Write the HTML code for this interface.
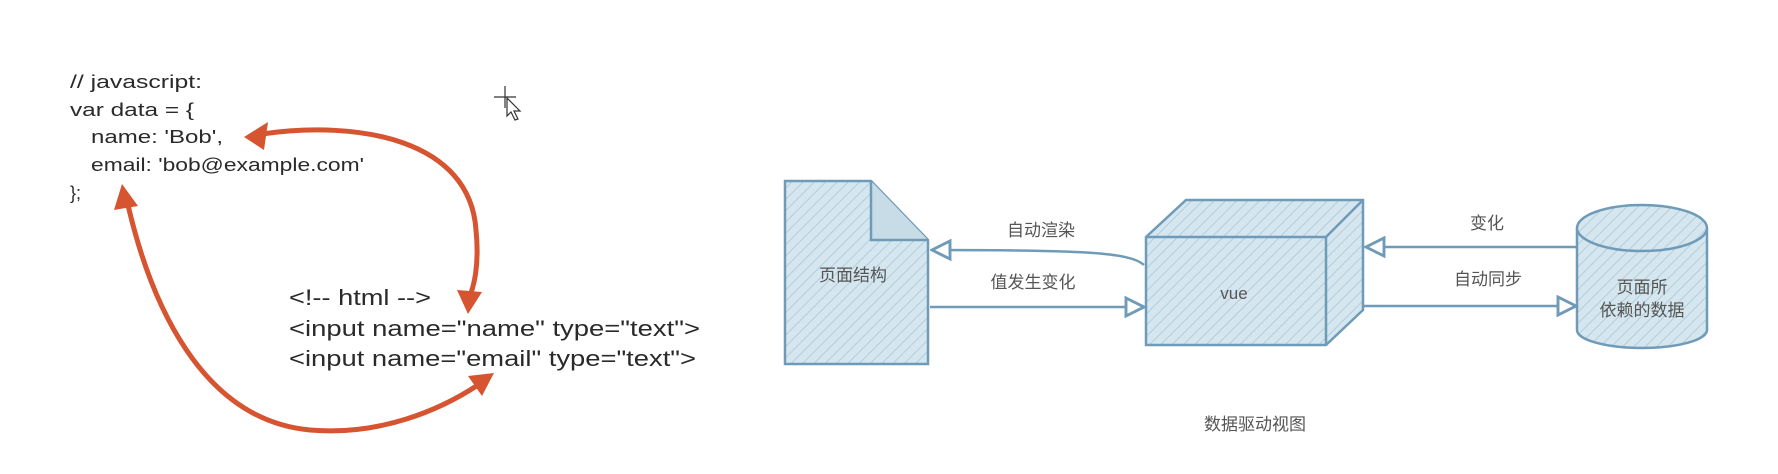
<!DOCTYPE html>
<html><head><meta charset="utf-8"><style>
html,body{margin:0;padding:0;background:#fff;}
svg{display:block}
.code{font-family:"Liberation Sans","Noto Sans CJK SC",sans-serif;fill:#2a2a2a;}
.cn{font-family:"Liberation Sans","Noto Sans CJK SC",sans-serif;fill:#555;font-size:17px;}
</style></head><body>
<svg width="1778" height="474" viewBox="0 0 1778 474" xmlns="http://www.w3.org/2000/svg">
<defs>
<pattern id="h" width="8" height="8" patternUnits="userSpaceOnUse" patternTransform="rotate(45)">
<rect width="8" height="8" fill="#d5e6ef"/>
<line x1="0" y1="0" x2="0" y2="8" stroke="#b3cddd" stroke-width="2"/>
</pattern>
<marker id="oa" viewBox="0 0 10 10" refX="9" refY="5" markerWidth="9" markerHeight="9" orient="auto">
<path d="M1,1 L9,5 L1,9 Z" fill="#fff" stroke="#6f9bb8" stroke-width="1.3"/>
</marker>
</defs>

<!-- code -->
<g class="code" font-size="18">
<text x="70" y="88" textLength="132" lengthAdjust="spacingAndGlyphs">// javascript:</text>
<text x="70" y="116" textLength="124" lengthAdjust="spacingAndGlyphs">var data = {</text>
<text x="91" y="143" textLength="132" lengthAdjust="spacingAndGlyphs">name: 'Bob',</text>
<text x="91" y="171" textLength="273" lengthAdjust="spacingAndGlyphs">email: 'bob@example.com'</text>
<text x="70" y="199">};</text>
</g>
<g class="code" font-size="22">
<text x="289" y="305" textLength="142" lengthAdjust="spacingAndGlyphs">&lt;!-- html --&gt;</text>
<text x="289" y="336" textLength="411" lengthAdjust="spacingAndGlyphs">&lt;input name="name" type="text"&gt;</text>
<text x="289" y="366" textLength="407" lengthAdjust="spacingAndGlyphs">&lt;input name="email" type="text"&gt;</text>
</g>

<!-- red arrows -->
<g fill="none" stroke="#d65430" stroke-width="5" stroke-linecap="round">
<path d="M262,134 C360,120 470,140 476,230 C480,270 472,290 470,296"/>
<path d="M128,205 C150,300 200,420 310,430 C380,436 440,410 478,385"/>
</g>
<g fill="#d65430">
<polygon points="244,137 268,122 264,150"/>
<polygon points="468,314 457,290 482,292"/>
<polygon points="122,184 114,210 138,206"/>
<polygon points="494,373 468,376 482,396"/>
</g>

<!-- cursor -->
<g stroke="#333" stroke-width="1.2" fill="#fff">
<path d="M505,86 v22 M494,97 h22"/>
<path d="M507,98 l0,18 l4,-4 l4,8 l3,-1 l-4,-8 l6,0 z"/>
</g>

<!-- document -->
<path d="M785,181 L871,181 L928,240 L928,364 L785,364 Z" fill="url(#h)" stroke="#6f9bb8" stroke-width="2.5"/>
<path d="M871,181 L871,240 L928,240" fill="#c8dce8" stroke="#6f9bb8" stroke-width="2.5"/>
<text class="cn" x="853" y="281" text-anchor="middle">页面结构</text>

<!-- cube -->
<path d="M1146,237 L1186,200 L1363,200 L1363,310 L1326,345 L1146,345 Z" fill="url(#h)" stroke="#6f9bb8" stroke-width="2.5"/>
<path d="M1146,237 L1326,237 L1363,200 M1326,237 L1326,345" fill="none" stroke="#6f9bb8" stroke-width="2.5"/>
<text class="cn" x="1234" y="299" text-anchor="middle">vue</text>

<!-- cylinder -->
<path d="M1577,228 L1577,330 A65,18 0 0 0 1707,330 L1707,228" fill="url(#h)" stroke="#6f9bb8" stroke-width="2.5"/>
<ellipse cx="1642" cy="228" rx="65" ry="23" fill="url(#h)" stroke="#6f9bb8" stroke-width="2.5"/>
<text class="cn" x="1642" y="293" text-anchor="middle">页面所</text>
<text class="cn" x="1642" y="316" text-anchor="middle">依赖的数据</text>

<!-- connectors -->
<g fill="none" stroke="#6f9bb8" stroke-width="2.5">
<path d="M1144,265 C1130,252 1080,250 932,250" marker-end="url(#oa)"/>
<path d="M930,307 L1144,307" marker-end="url(#oa)"/>
<path d="M1576,247 L1366,247" marker-end="url(#oa)"/>
<path d="M1364,306 L1576,306" marker-end="url(#oa)"/>
</g>
<text class="cn" x="1041" y="236" text-anchor="middle">自动渲染</text>
<text class="cn" x="1033" y="288" text-anchor="middle">值发生变化</text>
<text class="cn" x="1487" y="229" text-anchor="middle">变化</text>
<text class="cn" x="1488" y="285" text-anchor="middle">自动同步</text>
<text class="cn" x="1255" y="430" text-anchor="middle">数据驱动视图</text>
</svg>
</body></html>
